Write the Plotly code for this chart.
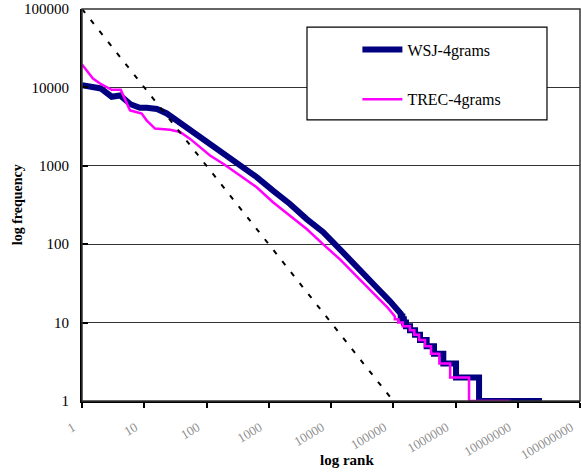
import plotly.graph_objects as go

# ---------------- data ----------------
x_tick_vals = [1, 10, 100, 1000, 10000, 100000, 1000000, 10000000, 100000000]
x_tick_text = ["1", "10", "100", "1000", "10000", "100000", "1000000", "10000000", "100000000"]
y_tick_vals = [1, 10, 100, 1000, 10000, 100000]
y_tick_text = ["1", "10", "100", "1000", "10000", "100000"]

# WSJ-4grams: smooth head part (rank, frequency)
wsj_head_rank = [1, 2, 3, 4.1, 6, 8.5, 11, 16, 23, 33, 54, 70, 114, 184, 345, 640,
                 1170, 2190, 4070, 7430, 13960, 25900, 54200, 88700, 128000]
wsj_head_freq = [10700, 9700, 7600, 7900, 6100, 5500, 5500, 5300, 4650, 3800, 2900,
                 2500, 1820, 1426, 1009, 717, 482, 326, 209, 143, 86, 53, 28, 18.7, 13.4]
# WSJ-4grams: integer-frequency tail (frequency level, last rank of that level)
wsj_tail_freq = [13, 12, 11, 10, 9, 8, 7, 6, 5, 4, 3, 2, 1]
wsj_tail_end_rank = [132000, 140000, 148000, 160000, 186000, 224000, 269000,
                     344000, 452000, 637000, 1020000, 2390000, 24500000]

# TREC-4grams: smooth head part
trec_head_rank = [1, 1.5, 1.95, 3, 4.2, 5.9, 9.1, 10.9, 14.9, 26, 37.5, 54, 114,
                  185, 345, 640, 1170, 2190, 4070, 7430, 13960, 25900, 54200, 82000, 98000]
trec_head_freq = [19600, 13000, 11200, 9300, 9300, 5100, 4650, 3800, 2980, 2880,
                  2700, 2220, 1355, 1062, 751, 533, 343, 231, 156, 100, 64, 39, 21.7,
                  15.4, 13]
# TREC-4grams: integer-frequency tail
trec_tail_freq = [12, 11, 10, 9, 8, 7, 6, 5, 4, 3, 2, 1]
trec_tail_end_rank = [106000, 120000, 142000, 185000, 218000, 260000, 324000,
                      404000, 550000, 820000, 1650000, 7500000]

# Zipf reference line (frequency = 100000 / rank)
zipf_rank = [1, 100000]
zipf_freq = [100000, 1]


def build(head_r, head_f, tail_f, tail_end):
    xs, ys = list(head_r), list(head_f)
    for i, (f, r_end) in enumerate(zip(tail_f, tail_end)):
        xs.append(r_end)
        ys.append(f)
        if i + 1 < len(tail_f):
            xs.append(r_end)
            ys.append(tail_f[i + 1])
    return xs, ys


wsj_x, wsj_y = build(wsj_head_rank, wsj_head_freq, wsj_tail_freq, wsj_tail_end_rank)
trec_x, trec_y = build(trec_head_rank, trec_head_freq, trec_tail_freq, trec_tail_end_rank)

FONT = "Liberation Serif, Times New Roman, serif"

fig = go.Figure()
fig.add_trace(go.Scatter(x=wsj_x, y=wsj_y, mode="lines", name="WSJ-4grams",
                         legendgroup="a",
                         line=dict(color="#000080", width=6)))
fig.add_trace(go.Scatter(x=trec_x, y=trec_y, mode="lines", name="TREC-4grams",
                         legendgroup="b",
                         line=dict(color="#FF00FF", width=2.5)))
fig.add_trace(go.Scatter(x=zipf_rank, y=zipf_freq, mode="lines", showlegend=False,
                         line=dict(color="black", width=2, dash="5px,9px")))

fig.update_layout(
    width=581, height=472,
    margin=dict(l=82, r=1, t=9, b=71),
    paper_bgcolor="white", plot_bgcolor="white",
    font=dict(family=FONT, color="black", size=15),
    showlegend=True,
    legend=dict(x=0.553, y=0.94, xanchor="left", yanchor="top",
                bgcolor="rgba(0,0,0,0)", borderwidth=0,
                font=dict(family=FONT, size=16, color="black"),
                tracegroupgap=26, itemwidth=40),
    shapes=[
        dict(type="rect", xref="paper", yref="paper", x0=0, x1=1, y0=0, y1=1,
             line=dict(color="#333333", width=1.5), layer="above"),
        dict(type="rect", xref="paper", yref="paper", x0=0.4518, x1=0.9337,
             y0=0.717, y1=0.954, line=dict(color="black", width=1.2),
             fillcolor="white", layer="above"),
    ],
    annotations=[
        dict(text="<b>log rank</b>", xref="paper", yref="paper", x=0.533, y=-0.151,
             xanchor="center", yanchor="middle", showarrow=False,
             font=dict(family=FONT, size=15, color="black")),
        dict(text="<b>log frequency</b>", xref="paper", yref="paper", x=-0.13, y=0.5,
             xanchor="center", yanchor="middle", showarrow=False, textangle=-90,
             font=dict(family=FONT, size=14, color="black")),
    ],
)

fig.update_xaxes(type="log", range=[0, 8], tickvals=x_tick_vals, ticktext=x_tick_text,
                 tickangle=-31, tickfont=dict(family=FONT, size=13, color="#8c8c8c"),
                 showgrid=False, zeroline=False, automargin=False,
                 ticklabeloverflow="allow", ticklabelshift=-9,
                 showline=True, linecolor="black", linewidth=2,
                 ticks="outside", ticklen=5, tickwidth=2, tickcolor="black",
                 ticklabelstandoff=7)
fig.update_yaxes(type="log", range=[0, 5], tickvals=y_tick_vals, ticktext=y_tick_text,
                 tickfont=dict(family=FONT, size=15, color="black"),
                 showgrid=True, gridcolor="#333333", gridwidth=1, zeroline=False,
                 automargin=False,
                 showline=True, linecolor="black", linewidth=2,
                 ticks="inside", ticklen=6, tickwidth=2, tickcolor="black",
                 ticklabelstandoff=8)

fig.write_html("out.html", config={"displayModeBar": False},
               post_script="document.body.style.margin='0';")
